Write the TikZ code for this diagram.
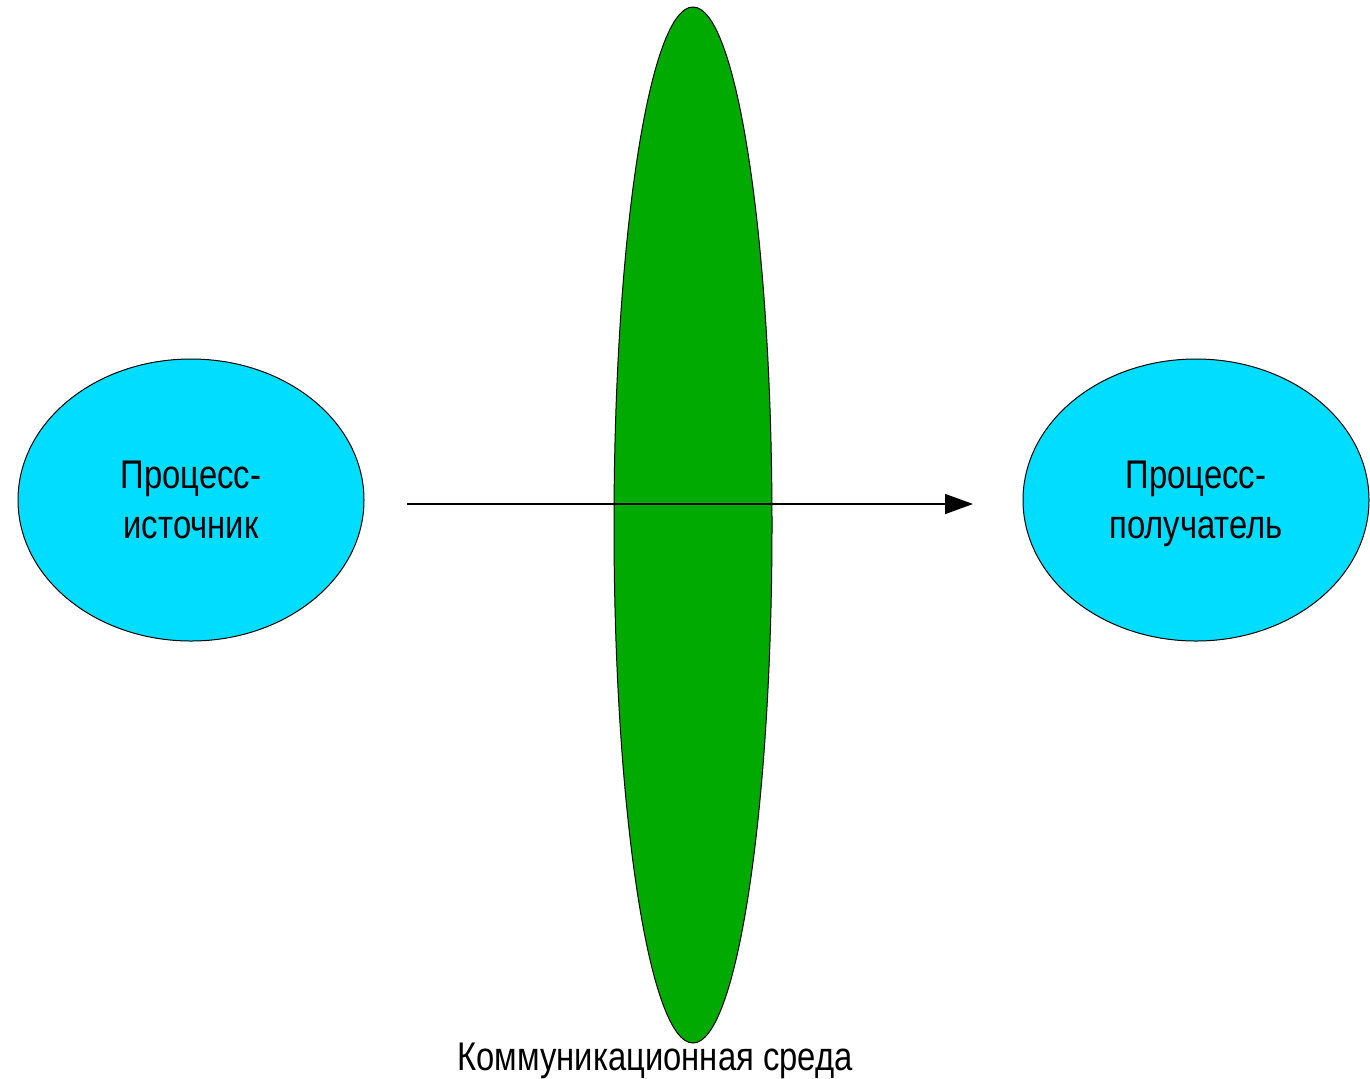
\documentclass[tikz,border=0pt]{standalone}
\usepackage{fontspec}
\setmainfont{Liberation Sans}[FakeStretch=0.82]
\usetikzlibrary{shapes.geometric,arrows.meta}
\definecolor{proccyan}{RGB}{0,221,255}
\definecolor{medgreen}{RGB}{0,170,0}
\begin{document}
\begin{tikzpicture}[x=0.5pt,y=-0.5pt,
  proc/.style={ellipse,draw=black,line width=0.5pt,fill=proccyan,minimum width=173pt,minimum height=141pt,inner sep=0pt,align=center,text depth=0pt,font=\fontsize{20pt}{25pt}\selectfont},
  medium/.style={ellipse,draw=black,line width=0.5pt,fill=medgreen,minimum width=79pt,minimum height=518pt,inner sep=0pt},
  lbl/.style={font=\fontsize{20pt}{25pt}\selectfont,inner sep=0pt},
  flow/.style={-{Triangle[length=14pt,width=10pt]},line width=0.7pt}]
\useasboundingbox (0,0) rectangle (1370,1078);
\node[proc] (src) at (191,500) {Процесс-\\источник};
\node[proc] (dst) at (1196,500) {Процесс-\\получатель};
\node[medium] (med) at (693,525) {};
\node[lbl] (medlbl) at (655,1061) {Коммуникационная среда};
\coordinate (a) at (407,504);
\coordinate (b) at (973,504);
\draw[flow] (a) -- (b);
\end{tikzpicture}
\end{document}
